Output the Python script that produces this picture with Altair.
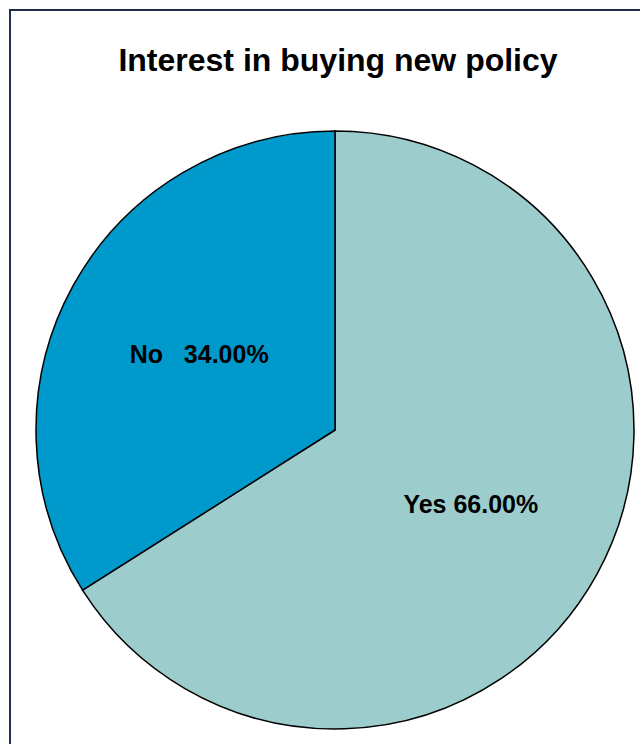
import altair as alt
import pandas as pd

categories = ["Yes", "No"]
values = [66.0, 34.0]
labels = ["Yes 66.00%", "No\u00a0\u00a0\u00a034.00%"]
order = [0, 1]

df = pd.DataFrame({"cat": categories, "value": values, "label": labels, "ord": order})

color_scale = alt.Scale(domain=categories, range=["#9ccccc", "#0099cc"])

base = alt.Chart(df)

frame = base.transform_filter(alt.datum.ord == 0).mark_rect(
    fill=None, stroke="#1f2d4d", strokeWidth=2
).encode(x=alt.value(10), y=alt.value(10), x2=alt.value(700), y2=alt.value(800))

pie = base.mark_arc(outerRadius=299, stroke="black", strokeWidth=1.5).encode(
    theta=alt.Theta("value:Q", stack=True),
    color=alt.Color("cat:N", scale=color_scale, legend=None),
    order=alt.Order("ord:Q"),
    x=alt.value(335),
    y=alt.value(430),
)

text = base.mark_text(
    font="Liberation Sans", fontSize=25, fontWeight="bold", color="black"
).encode(
    theta=alt.Theta("value:Q", stack=True),
    radius=alt.value(155),
    order=alt.Order("ord:Q"),
    text="label:N",
    x=alt.value(335),
    y=alt.value(430),
)

chart = alt.layer(frame, pie, text).properties(
    width=640,
    height=744,
    padding=0,
    autosize=alt.AutoSizeParams(type="none"),
    title=alt.Title(
        "Interest in buying new policy",
        font="Liberation Sans",
        fontSize=32,
        fontWeight="bold",
        color="black",
        anchor="middle",
        dx=18,
        dy=82,
    ),
).configure_view(stroke=None)

chart.save("out.html", embed_options={"renderer": "svg", "actions": False})
